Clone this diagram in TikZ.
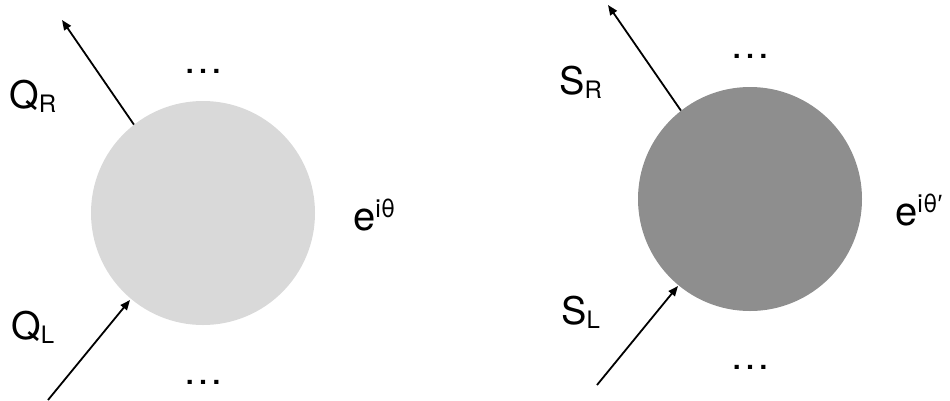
\documentclass[tikz,border=0pt]{standalone}
\usepackage{fontspec}
\setmainfont{TeX Gyre Heros}
\newfontfamily\primefont{Liberation Sans}
\usetikzlibrary{arrows.meta}
\definecolor{lightball}{HTML}{D9D9D9}
\definecolor{darkball}{HTML}{8E8E8E}
\newcommand\mysub[1]{\raisebox{-4pt}{\fontsize{24}{24}\selectfont #1}}
\newcommand\mysup[1]{\raisebox{13pt}{\fontsize{25}{25}\selectfont #1}}
\begin{document}
\begin{tikzpicture}[x=1pt,y=-1pt,
  ball/.style={circle, inner sep=0pt, minimum size=224pt},
  lbl/.style={inner sep=0pt, anchor=base west, font=\fontsize{38}{38}\selectfont},
  dotslbl/.style={inner sep=0pt, anchor=base, font=\fontsize{40}{40}\selectfont},
  phase/.style={inner sep=0pt, anchor=base west, font=\fontsize{40}{40}\selectfont},
  arr/.style={line width=1.8pt, -{Triangle[length=10pt,width=8pt]}}]
\useasboundingbox (0,0) rectangle (950,400);
% balls
\node[ball, fill=lightball] (c1) at (203,213) {};
\node[ball, fill=darkball] (c2) at (750,199) {};
% free ends
\coordinate (qrend) at (62,20);
\coordinate (qlstart) at (48,400);
\coordinate (srend) at (608,5);
\coordinate (slstart) at (597,385);
\coordinate (qltip) at (130,300);
\coordinate (sltip) at (678,286);
% arrows
\draw[arr] (c1.128.7) -- (qrend);
\draw[arr] (qlstart) -- (qltip);
\draw[arr] (c2.128.3) -- (srend);
\draw[arr] (slstart) -- (sltip);
% labels
\node[lbl] (qr) at (9,108) {Q\mysub{R}};
\node[lbl] (ql) at (11,339) {Q\mysub{L}};
\node[lbl] (sr) at (559,94) {S\mysub{R}};
\node[lbl] (sl) at (561,324) {S\mysub{L}};
\node[dotslbl] (d1) at (203,73) {…};
\node[dotslbl] (d2) at (203,384) {…};
\node[dotslbl] (d3) at (750,58) {…};
\node[dotslbl] (d4) at (750,369) {…};
\node[phase] (p1) at (353,230) {e\mysup{iθ}};
\node[phase] (p2) at (895,225) {e\mysup{iθ{\primefont ′}}};
\end{tikzpicture}
\end{document}
